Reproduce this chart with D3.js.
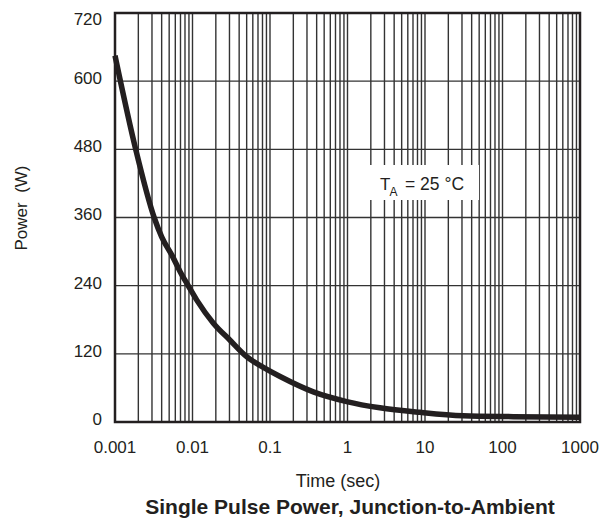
<!DOCTYPE html>
<html>
<head>
<meta charset="utf-8">
<script src="https://cdn.jsdelivr.net/npm/d3@7"></script>
<style>
  body { margin: 0; background: #fff; }
  svg { display: block; font-family: "Liberation Sans", Arial, Helvetica, sans-serif; }
</style>
</head>
<body>
<svg width="614" height="523"></svg>
<script>
// pulse time (s) and power (W)
const times  = [0.001, 0.00185, 0.0032, 0.004, 0.0055, 0.0069, 0.0088, 0.0113, 0.0186, 0.0305, 0.05, 0.082, 0.135, 0.362, 0.976, 2.62, 8.6, 31, 138, 1000];
const powers = [645, 480, 360, 326, 292, 265, 240, 215, 174, 144, 115, 96, 80, 53, 36, 25, 17, 11, 9.4, 8.3];

const xTicks = [0.001, 0.01, 0.1, 1, 10, 100, 1000];
const xTickLabels = ["0.001", "0.01", "0.1", "1", "10", "100", "1000"];
const yTicks = [0, 120, 240, 360, 480, 600, 720];

const ink = "#231f20";
const margin = {top: 13, right: 34, bottom: 101, left: 115},
      width = 614 - margin.left - margin.right,
      height = 523 - margin.top - margin.bottom;

const svg = d3.select("svg");

const x = d3.scaleLog()
            .domain([0.001, 1000])
            .range([margin.left, margin.left + width]);

const y = d3.scaleLinear()
            .domain([0, 720])
            .range([margin.top + height, margin.top]);

// grid: every 1..9 x decade, and every 120 W
svg.append("g")
   .selectAll("line")
   .data(x.ticks())
   .join("line")
   .attr("x1", d => x(d)).attr("x2", d => x(d))
   .attr("y1", y(0)).attr("y2", y(720))
   .attr("stroke", "#333")
   .attr("stroke-width", 1.4);

svg.append("g")
   .selectAll("line")
   .data(yTicks)
   .join("line")
   .attr("x1", x(0.001)).attr("x2", x(1000))
   .attr("y1", d => y(d)).attr("y2", d => y(d))
   .attr("stroke", "#333")
   .attr("stroke-width", 1.4);

// frame
svg.append("rect")
   .attr("x", x(0.001)).attr("y", y(720))
   .attr("width", x(1000) - x(0.001))
   .attr("height", y(0) - y(720))
   .attr("fill", "none")
   .attr("stroke", ink)
   .attr("stroke-width", 2.5);

// tick labels
svg.append("g")
   .selectAll("text")
   .data(xTicks)
   .join("text")
   .attr("x", d => x(d))
   .attr("y", y(0) + 31)
   .attr("text-anchor", "middle")
   .attr("font-size", 17)
   .attr("fill", ink)
   .text((d, i) => xTickLabels[i]);

svg.append("g")
   .selectAll("text")
   .data(yTicks)
   .join("text")
   .attr("x", x(0.001) - 13)
   .attr("y", d => Math.max(y(d) - 3, 19))
   .attr("dy", "0.35em")
   .attr("text-anchor", "end")
   .attr("font-size", 17)
   .attr("fill", ink)
   .text(d => d);

// annotation box
svg.append("rect")
   .attr("x", 365).attr("y", 165)
   .attr("width", 114).attr("height", 35)
   .attr("fill", "#fff");

const ann = svg.append("text")
   .attr("x", 380).attr("y", 190)
   .attr("font-size", 17)
   .attr("fill", ink);
ann.append("tspan").text("T");
ann.append("tspan").attr("dx", -1).attr("dy", 6).attr("font-size", 12).text("A");
ann.append("tspan").attr("x", 405).attr("y", 190).attr("font-size", 17.5).text("= 25 °C");

// power curve
const line = d3.line()
               .x((d, i) => x(times[i]))
               .y(d => y(d))
               .curve(d3.curveMonotoneX);

svg.append("path")
   .datum(powers)
   .attr("fill", "none")
   .attr("stroke", ink)
   .attr("stroke-width", 5.5)
   .attr("stroke-linejoin", "round")
   .attr("d", line);

// axis titles
svg.append("text")
   .attr("transform", "translate(27,208) rotate(-90)")
   .attr("text-anchor", "middle")
   .attr("font-size", 17)
   .attr("fill", ink)
   .style("white-space", "pre")
   .text("Power  (W)");

svg.append("text")
   .attr("x", 338).attr("y", 487)
   .attr("text-anchor", "middle")
   .attr("font-size", 18)
   .attr("fill", ink)
   .text("Time (sec)");

svg.append("text")
   .attr("x", 350).attr("y", 514)
   .attr("text-anchor", "middle")
   .attr("font-size", 21)
   .attr("font-weight", "bold")
   .attr("fill", ink)
   .text("Single Pulse Power, Junction-to-Ambient");
</script>
</body>
</html>
